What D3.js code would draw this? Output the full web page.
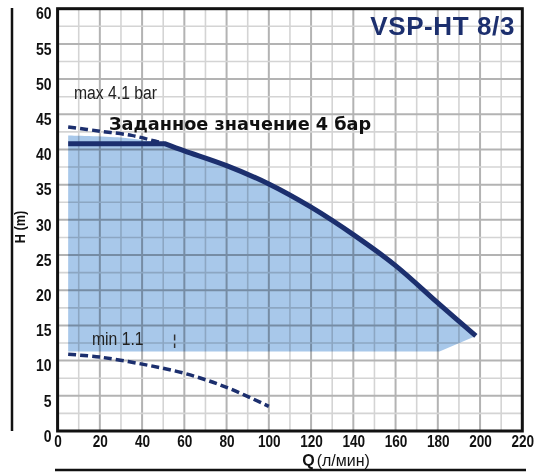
<!DOCTYPE html>
<html><head><meta charset="utf-8">
<script src="https://cdn.jsdelivr.net/npm/d3@7/dist/d3.min.js"></script>
<style>
html,body{margin:0;padding:0;background:#fff;}
svg{display:block;}
</style></head>
<body>
<svg id="chart" width="538" height="474"></svg>
<script>
// ---- data ----
const xTicks = [0, 20, 40, 60, 80, 100, 120, 140, 160, 180, 200, 220];
const yTicks = [0, 5, 10, 15, 20, 25, 30, 35, 40, 45, 50, 55, 60];
// setpoint 4 bar curve: flat part then falling part
const flatQ = [5, 51];
const flatH = [40.8, 40.8];
const curveQ = [51, 60, 80, 100, 120, 140, 160, 180, 198];
const curveH = [40.8, 39.8, 37.7, 35.1, 31.8, 27.9, 23.5, 18.2, 13.5];
// max 4.1 bar dashed
const maxQ = [5, 20, 35, 46, 50];
const maxH = [43.2, 42.6, 42.0, 41.2, 40.9];
// min 1.1 dashed
const minQ = [5, 20, 40, 60, 80, 100];
const minH = [10.9, 10.5, 9.5, 8.2, 6.2, 3.5];
// operating area (fill)
const fillTopQ = [5, 30, 45, 51];
const fillTopH = [42.0, 41.7, 41.1, 40.8];
const fillBottomQ = [198, 180.8, 5];
const fillBottomH = [13.5, 11.3, 11.3];
// min marker
const markQ = [55.4, 55.4];
const markH = [13.7, 11.8];

const title = "VSP-HT 8/3";
const setLabel = "Заданное значение 4 бар";
const maxLabel = "max 4.1 bar";
const minLabel = "min 1.1";

// ---- layout ----
const svg = d3.select("#chart");
const L = 57.6, R = 522.3, T = 8.7, B = 431;
const x = d3.scaleLinear().domain([0, 220]).range([L, R]);
const y = d3.scaleLinear().domain([0, 60]).range([B, T]);

const navy = "#1c2f6e";
const sans = "'Liberation Sans', Arial, sans-serif";
const NX = 0.85; // horizontal compression to mimic a condensed face

// grid
const g = svg.append("g");
const vGrid = d3.range(0, 221, 10);
const hGrid = d3.range(0, 60.1, 2.5);
g.selectAll(".vg").data(vGrid).join("line")
  .attr("x1", d => x(d)).attr("x2", d => x(d)).attr("y1", T).attr("y2", B)
  .attr("stroke", d => d % 20 === 0 ? "#b3b3b3" : "#d4d4d4")
  .attr("stroke-width", d => d % 20 === 0 ? 2 : 1.6);
g.selectAll(".hg").data(hGrid).join("line")
  .attr("y1", d => y(d)).attr("y2", d => y(d)).attr("x1", L).attr("x2", R)
  .attr("stroke", d => d % 5 === 0 ? "#b3b3b3" : "#d4d4d4")
  .attr("stroke-width", d => d % 5 === 0 ? 2 : 1.6);

// generators
const smooth = d3.line().x(d => x(d[0])).y(d => y(d[1])).curve(d3.curveCatmullRom.alpha(0.5));
const lin = d3.line().x(d => x(d[0])).y(d => y(d[1]));
const pts = (qs, hs) => qs.map((q, i) => [q, hs[i]]);

// fill area
const areaPath = smooth(pts(fillTopQ, fillTopH))
  + smooth(pts(curveQ, curveH)).replace(/^M/, "L")
  + lin(pts(fillBottomQ, fillBottomH)).replace(/^M/, "L") + "Z";
svg.append("path").attr("d", areaPath)
  .attr("fill", "#a8c8ea").style("mix-blend-mode", "multiply");

// plot frame
svg.append("rect").attr("x", L).attr("y", T).attr("width", R - L).attr("height", B - T)
  .attr("fill", "none").attr("stroke", "#111").attr("stroke-width", 3);

// curves
svg.append("path").attr("d", smooth(pts(maxQ, maxH)))
  .attr("fill", "none").attr("stroke", navy).attr("stroke-width", 3.5)
  .attr("stroke-dasharray", "8,4");
svg.append("path").attr("d", smooth(pts(minQ, minH)))
  .attr("fill", "none").attr("stroke", navy).attr("stroke-width", 3.5)
  .attr("stroke-dasharray", "8,4");
svg.append("path")
  .attr("d", lin(pts(flatQ, flatH)) + smooth(pts(curveQ, curveH)).replace(/^M/, "L"))
  .attr("fill", "none").attr("stroke", navy).attr("stroke-width", 5)
  .attr("stroke-linejoin", "round");
svg.append("path").attr("d", lin(pts(markQ, markH)))
  .attr("fill", "none").attr("stroke", "#333").attr("stroke-width", 1.5)
  .attr("stroke-dasharray", "6,3");

// axes labels
const yAxis = d3.axisLeft(y).tickValues(yTicks).tickSize(0).tickPadding(0);
const ya = svg.append("g").attr("transform", `translate(${L - 6},0)`).call(yAxis);
ya.select(".domain").remove();
ya.selectAll("text").attr("x", 0).attr("font-family", sans).attr("font-weight", "bold")
  .attr("font-size", 16.5).attr("fill", "#111").attr("dy", "0.62em")
  .attr("transform", `scale(${NX},1)`);
const xAxis = d3.axisBottom(x).tickValues(xTicks).tickSize(0).tickPadding(5);
const xa = svg.append("g").attr("transform", `translate(0,${B})`).call(xAxis);
xa.select(".domain").remove();
xa.selectAll("text").attr("font-family", sans).attr("font-weight", "bold")
  .attr("font-size", 16).attr("fill", "#111")
  .attr("transform", `scale(${NX},1)`);

// axis titles
svg.append("text").attr("transform", `translate(25,227) rotate(-90) scale(${NX},1)`)
  .attr("text-anchor", "middle").attr("font-family", sans).attr("font-weight", "bold")
  .attr("font-size", 15).attr("fill", "#111").text("H (m)");
const xt = svg.append("text").attr("transform", "translate(336,465.5)")
  .attr("text-anchor", "middle").attr("font-size", 16).attr("fill", "#111");
xt.append("tspan").attr("font-family", sans).attr("font-weight", "bold").text("Q");
xt.append("tspan").attr("font-family", sans).attr("dx", 2).text("(л/мин)");

// outer lines
svg.append("line").attr("x1", 12).attr("x2", 12).attr("y1", 8).attr("y2", 431)
  .attr("stroke", "#111").attr("stroke-width", 2.5);
svg.append("line").attr("x1", 55).attr("x2", 526).attr("y1", 470).attr("y2", 470)
  .attr("stroke", "#111").attr("stroke-width", 2.5);

// annotations
svg.append("text").attr("transform", "translate(515,35)").attr("text-anchor", "end")
  .attr("font-family", sans).attr("font-weight", "bold").attr("font-size", 26)
  .attr("letter-spacing", 0.6).attr("fill", navy).text(title);
svg.append("text").attr("x", 109).attr("y", 130)
  .attr("font-family", "'DejaVu Sans', sans-serif").attr("font-weight", "bold").attr("font-size", 17.7)
  .attr("fill", "#111").text(setLabel);
svg.append("text").attr("transform", `translate(74,99) scale(${NX},1)`)
  .attr("font-family", sans).attr("font-size", 18.5)
  .attr("fill", "#222").text(maxLabel);
svg.append("text").attr("transform", `translate(92,345) scale(${NX},1)`)
  .attr("font-family", sans).attr("font-size", 18.5)
  .attr("fill", "#222").text(minLabel);
</script>
</body></html>
